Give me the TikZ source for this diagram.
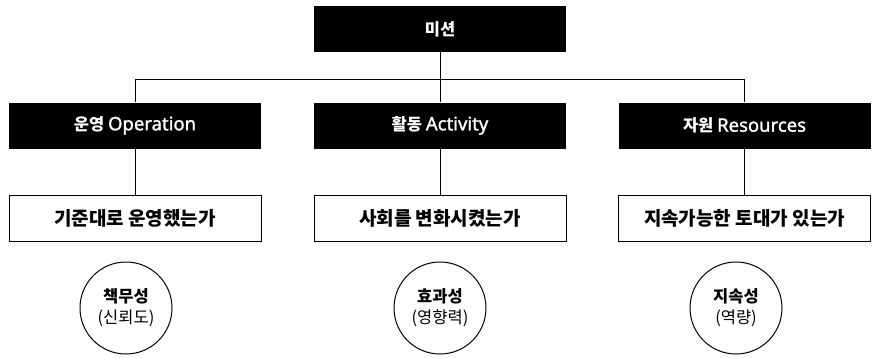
\documentclass[tikz,border=0pt]{standalone}
\usepackage{fontspec}
\setmainfont{Noto Sans CJK KR}
\newfontfamily\latinfont{Noto Sans}[FakeBold=1.4]
\begin{document}
\begin{tikzpicture}[x=1pt,y=-1pt]
                \tikzstyle{every node}+=[inner sep=0pt]
                \tikzstyle{head}=[fill=black, text=white, minimum width=252pt, minimum height=46pt, font=\bfseries\fontsize{16.5}{19}\selectfont]
                \tikzstyle{question}=[draw=black, line width=1pt, fill=white, minimum width=252pt, minimum height=46pt, font=\bfseries\fontsize{19}{21}\selectfont]
                \tikzstyle{value}=[draw=black, line width=1pt, circle, minimum size=92pt, align=center, font=\fontsize{16.5}{21}\selectfont]
                \newcommand{\eng}[1]{{\latinfont\mdseries\fontsize{18.5}{19}\selectfont #1}}
                \useasboundingbox (0,0) rectangle (874,357);
                \node [head] (mission) at (440,29) {미션};
                \node [head] (operation) at (135,125.5) {운영 \eng{Operation}};
                \node [head] (activity) at (440,125.5) {활동 \eng{Activity}};
                \node [head] (resources) at (744.5,125.5) {자원 \eng{Resources}};
                \node [question] (opq) at (135,218.5) {기준대로 운영했는가};
                \node [question] (actq) at (440,218.5) {사회를 변화시켰는가};
                \node [question] (resq) at (744.5,218.5) {지속가능한 토대가 있는가};
                \node [value] (accountability) at (126,308) {\textbf{책무성}\\(신뢰도)};
                \node [value] (effect) at (440,308) {\textbf{효과성}\\(영향력)};
                \node [value] (sustain) at (736,308) {\textbf{지속성}\\(역량)};
                \coordinate (bus) at (440,79);
                \draw [black, line width=1pt] (mission.south) -- (activity.north);
                \draw [black, line width=1pt] (operation.north) -- (operation.north |- bus) -- (resources.north |- bus) -- (resources.north);
                \draw [black, line width=1pt] (operation.south) -- (opq.north);
                \draw [black, line width=1pt] (activity.south) -- (actq.north);
                \draw [black, line width=1pt] (resources.south) -- (resq.north);
            \end{tikzpicture}
\end{document}
